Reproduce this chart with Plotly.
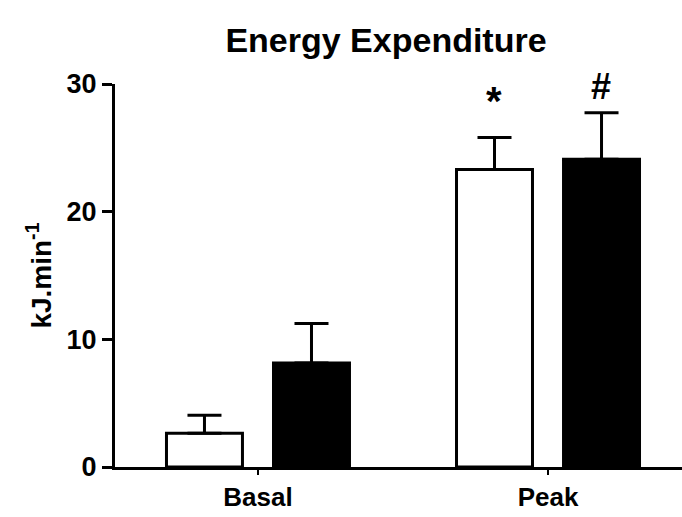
import plotly.graph_objects as go

groups = ["Basal", "Peak"]
white_vals = [2.65, 23.3]
white_err = [1.4, 2.5]
black_vals = [8.15, 24.1]
black_err = [3.1, 3.65]
y_ticks = [0, 10, 20, 30]
marks = ["*", "#"]
mark_y = [28.7, 29.8]

FONT = "Liberation Sans, Arial, sans-serif"

fig = go.Figure()
fig.add_trace(go.Bar(
    x=groups, y=white_vals, name="white",
    marker=dict(color="white", line=dict(color="black", width=3)),
    error_y=dict(type="data", array=white_err, arrayminus=[0, 0], symmetric=False,
                 color="black", thickness=3, width=17),
))
fig.add_trace(go.Bar(
    x=groups, y=black_vals, name="black",
    marker=dict(color="black", line=dict(color="black", width=3)),
    error_y=dict(type="data", array=black_err, arrayminus=[0, 0], symmetric=False,
                 color="black", thickness=3, width=17),
))

# significance markers above the Peak bars
fig.add_annotation(x=groups[1], y=mark_y[0], text="<b>" + marks[0] + "</b>", showarrow=False,
                   xshift=-54, font=dict(size=40, color="black", family=FONT))
fig.add_annotation(x=groups[1], y=mark_y[1], text="<b>" + marks[1] + "</b>", showarrow=False,
                   xshift=53, font=dict(size=36, color="black", family=FONT))

fig.update_layout(
    width=682, height=517,
    margin=dict(l=115, r=0, t=84, b=50),
    paper_bgcolor="white", plot_bgcolor="white",
    barmode="group", bargap=0.262, bargroupgap=0.29,
    showlegend=False,
    font=dict(family=FONT, color="black"),
    title=dict(text="<b>Energy Expenditure</b>", x=0.566, xanchor="center",
               y=0.922, yanchor="middle", font=dict(size=34, family=FONT, color="black")),
)
fig.update_xaxes(
    range=[-0.493, 1.462], showline=True, linecolor="black", linewidth=3,
    ticks="outside", ticklen=5, tickwidth=2, tickcolor="black",
    tickfont=dict(size=26, family=FONT, color="black"),
    tickvals=groups, ticktext=[f"<b>{g}</b>" for g in groups],
    showgrid=False, zeroline=False,
)
fig.update_yaxes(
    range=[0, 30], showline=True, linecolor="black", linewidth=3,
    ticks="outside", ticklen=10, tickwidth=3, tickcolor="black",
    tickvals=y_ticks, ticktext=[f"<b>{v}</b>" for v in y_ticks],
    tickfont=dict(size=27, family=FONT, color="black"),
    showgrid=False, zeroline=False,
    title=dict(text="<b>kJ.min<sup>-1</sup></b>", font=dict(size=28, family=FONT, color="black"),
               standoff=7),
)

fig.write_html("out.html")
